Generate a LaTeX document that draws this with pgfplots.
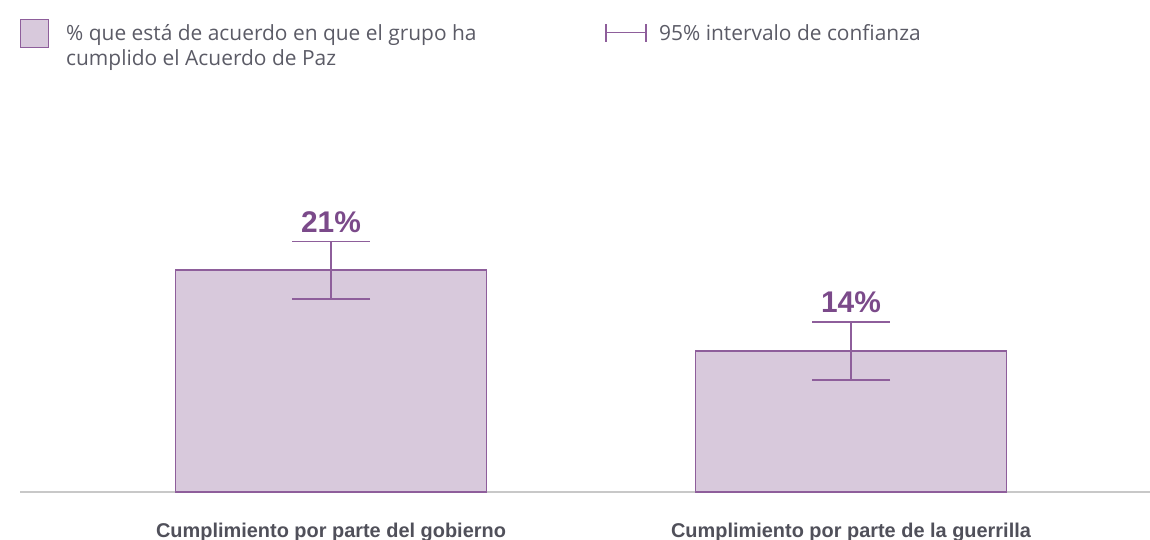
\documentclass[border=0pt]{standalone}
\usepackage{fontspec}
\setmainfont{Open Sans}
\newfontfamily\valfont{Liberation Sans}
\usepackage{pgfplots}
\pgfplotsset{compat=1.18}
\definecolor{barfill}{HTML}{D8C9DC}
\definecolor{baredge}{HTML}{8E5E9B}
\definecolor{valcol}{HTML}{7B4A8A}
\definecolor{txtgray}{HTML}{5B5B66}
\definecolor{labgray}{HTML}{50505A}
\definecolor{axgray}{HTML}{C8C8C8}

\pgfplotstableread{
x y err lab
0 21.00 2.72 21
1 13.34 2.75 14
}\datatable

\begin{document}
\begin{tikzpicture}[x=1bp,y=1bp]
\useasboundingbox (0,0) rectangle (1150,540);
\begin{axis}[
  at={(20bp,48bp)}, anchor=south west, scale only axis,
  width=1130bp, height=422.8bp,
  xmin=-0.5981, xmax=1.575, ymin=0, ymax=40,
  ybar, bar width=311bp,
  axis x line=bottom, axis y line=none,
  axis line style={axgray, line width=1.5bp, -},
  xtick={0,1},
  xticklabels={Cumplimiento por parte del gobierno, Cumplimiento por parte de la guerrilla},
  xtick style={draw=none}, major tick length=0pt,
  xticklabel style={font=\valfont\bfseries\fontsize{20}{22}\selectfont, text=labgray, anchor=base, yshift=-46bp},
  clip=false,
  legend style={at={(0,1.1187)}, anchor=north west, draw=none, fill=none,
    inner sep=0pt, outer sep=0pt, legend columns=2,
    font=\fontsize{21}{25}\selectfont, text=txtgray,
    column sep=15bp},
  legend cell align=left,
]
\addplot[draw=baredge, fill=barfill, line width=1.5bp,
  error bars/.cd, y dir=both, y explicit,
  error bar style={baredge, line width=1.5bp},
  error mark options={rotate=90, mark size=39bp, baredge, line width=1.5bp},
  ]
  [nodes near coords={\pgfplotspointmeta\%},
   point meta=explicit symbolic,
   every node near coord/.append style={font=\valfont\bfseries\fontsize{30}{30}\selectfont, text=valcol, anchor=base, yshift=38bp},
   legend image code/.code={\draw[baredge, fill=barfill, line width=1.2bp] (0bp,-14bp) rectangle (28bp,14bp);}]
  table[x=x, y=y, y error=err, meta=lab] {\datatable};
\addlegendentry{\parbox[t]{519bp}{\raggedright \% que está de acuerdo en que el grupo ha\\cumplido el Acuerdo de Paz}}
\addlegendimage{legend image code/.code={
  \path[draw=none, fill=none] (0bp,-8bp) rectangle (40bp,10bp);
  \begin{scope}[overlay]
  \draw[baredge, line width=1.5bp] (4bp,-8bp) -- (4bp,10bp);
  \draw[baredge, line width=1.5bp] (44bp,-8bp) -- (44bp,10bp);
  \draw[baredge, line width=1.5bp] (4bp,1bp) -- (44bp,1bp);
  \end{scope}}}
\addlegendentry{95\% intervalo de confianza}
\end{axis}
\end{tikzpicture}
\end{document}
